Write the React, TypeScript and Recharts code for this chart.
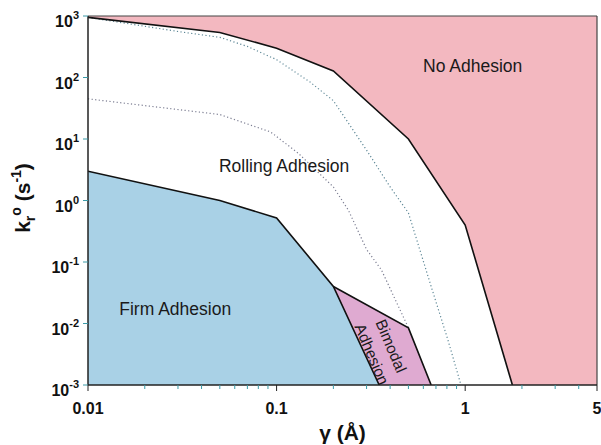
import React from 'react';
import {
  ComposedChart,
  Area,
  Line,
  XAxis,
  YAxis,
  ReferenceLine,
  ReferenceDot,
} from 'recharts';

const FONT = '"Liberation Sans", Arial, Helvetica, sans-serif';

// axis ticks
const xMajorTicks = [0.01, 0.1, 1, 5];
const xMinorTicks = [0.02, 0.03, 0.04, 0.05, 0.06, 0.07, 0.08, 0.09, 0.2, 0.3, 0.4, 0.5, 0.6, 0.7, 0.8, 0.9, 2, 3, 4];
const yTicks = [0.001, 0.01, 0.1, 1, 10, 100, 1000];

// whole plot (no adhesion background)
const fullX = [0.01, 5];
const fullY = [1000, 1000];

// rolling / no adhesion boundary
const noAdhesionX = [0.01, 0.05, 0.1, 0.2, 0.5, 1, 1.78];
const noAdhesionY = [950, 540, 300, 128, 10, 0.4, 0.001];

// firm adhesion boundary
const firmX = [0.01, 0.05, 0.1, 0.2, 0.35];
const firmY = [3, 1, 0.52, 0.04, 0.001];

// bimodal adhesion upper edge
const bimodalX = [0.2, 0.5, 0.66];
const bimodalY = [0.04, 0.0085, 0.001];

// dotted curves
const dotUpperX = [0.01, 0.03, 0.05, 0.07, 0.1, 0.15, 0.2, 0.3, 0.4, 0.5, 0.66, 0.81, 0.95];
const dotUpperY = [950, 560, 450, 320, 195, 85, 42, 6.6, 1.66, 0.63, 0.04, 0.0054, 0.001];
const dotLowerX = [0.01, 0.05, 0.093, 0.13, 0.2, 0.24, 0.3, 0.36, 0.5];
const dotLowerY = [45, 25, 13, 5.9, 1.66, 0.7, 0.16, 0.074, 0.0085];

const pts = (xs: number[], ys: number[]) => xs.map((x, i) => ({ x, y: ys[i] }));

const PINK = '#f3b8c0';
const BLUE = '#a9d1e6';
const PURPLE = '#dfaad1';

const TICK_SIZE = 6;
const TICK_MARGIN = 12;

// draws its own tick mark so minor and major ticks can share the axis
const XTick = (props: any) => {
  const { x, y, payload } = props;
  const axisY = y - TICK_SIZE - TICK_MARGIN;
  const major = xMajorTicks.includes(payload.value);
  return (
    <g>
      <line x1={x} x2={x} y1={axisY} y2={axisY + (major ? 6 : 4)} stroke={major ? '#222' : '#3a9aa8'} strokeWidth={1} />
      {major && (
        <text x={x} y={y} dy="0.71em" textAnchor="middle" fontFamily={FONT} fontWeight="bold" fontSize={16} fill="#111">
          {payload.value}
        </text>
      )}
    </g>
  );
};

const YTick = (props: any) => {
  const { x, y, payload } = props;
  const exp = Math.round(Math.log10(payload.value));
  return (
    <text x={x} y={y + 11} textAnchor="end" fontFamily={FONT} fontWeight="bold" fill="#111">
      <tspan fontSize={16}>10</tspan>
      <tspan fontSize={11} dy={-8}>{exp}</tspan>
    </text>
  );
};

const YLabel = () => (
  <text transform="rotate(-90)" x={-198} y={30} textAnchor="middle" fontFamily={FONT} fontWeight="bold" fontSize={21} fill="#111">
    k<tspan fontSize={14} dy={5}>r</tspan>
    <tspan fontSize={14} dy={-14}>o</tspan>
    <tspan dy={9}> (s</tspan>
    <tspan fontSize={14} dy={-9}>-1</tspan>
    <tspan dy={9}>)</tspan>
  </text>
);

const regionText = (text: string) => (p: any) => (
  <text x={p.cx} y={p.cy} textAnchor="middle" fontFamily={FONT} fontSize={17.5} fill="#1a1a1a">
    {text}
  </text>
);

const bimodalText = (p: any) => (
  <g transform={`rotate(67, ${p.cx}, ${p.cy})`} fontFamily={FONT} fontSize={15.5} fill="#1a1a1a">
    <text x={p.cx} y={p.cy - 5} textAnchor="middle">Bimodal</text>
    <text x={p.cx} y={p.cy + 16} textAnchor="middle">Adhesion</text>
  </g>
);

export default function App() {
  return (
    <div style={{ position: 'absolute', left: 0, top: 0, background: '#fff' }}>
      <ComposedChart width={601} height={445} margin={{ top: 16, right: 4, left: 0, bottom: 0 }}>
        <XAxis
          type="number"
          dataKey="x"
          scale="log"
          domain={[0.01, 5]}
          allowDataOverflow
          ticks={[...xMajorTicks, ...xMinorTicks]}
          interval={0}
          tick={<XTick />}
          tickSize={TICK_SIZE}
          tickMargin={TICK_MARGIN}
          tickLine={false}
          axisLine={{ stroke: '#222', strokeWidth: 1.5 }}
          height={60}
          label={{ value: 'γ (Å)', position: 'insideBottom', offset: 5, fontFamily: FONT, fontWeight: 'bold', fontSize: 21, fill: '#111' }}
        />
        <YAxis
          type="number"
          dataKey="y"
          scale="log"
          domain={[0.001, 1000]}
          allowDataOverflow
          ticks={yTicks}
          interval={0}
          tick={<YTick />}
          tickSize={5}
          tickMargin={4}
          tickLine={{ stroke: '#3a9aa8' }}
          axisLine={{ stroke: '#222', strokeWidth: 1.5 }}
          width={88}
          label={<YLabel />}
        />

        <Area data={pts(fullX, fullY)} dataKey="y" type="linear" baseValue="dataMin" fill={PINK} fillOpacity={1} stroke="none" isAnimationActive={false} />
        <Area data={pts(noAdhesionX, noAdhesionY)} dataKey="y" type="linear" baseValue="dataMin" fill="#ffffff" fillOpacity={1} stroke="none" isAnimationActive={false} />
        <Area data={pts(bimodalX, bimodalY)} dataKey="y" type="linear" baseValue="dataMin" fill={PURPLE} fillOpacity={1} stroke="none" isAnimationActive={false} />
        <Area data={pts(firmX, firmY)} dataKey="y" type="linear" baseValue="dataMin" fill={BLUE} fillOpacity={1} stroke="none" isAnimationActive={false} />

        <Line data={pts(dotUpperX, dotUpperY)} dataKey="y" type="linear" stroke="#5d8796" strokeWidth={1.2} strokeDasharray="1.2 2.4" dot={false} isAnimationActive={false} />
        <Line data={pts(dotLowerX, dotLowerY)} dataKey="y" type="linear" stroke="#7d7f93" strokeWidth={1.2} strokeDasharray="1.2 2.4" dot={false} isAnimationActive={false} />
        <Line data={pts(noAdhesionX, noAdhesionY)} dataKey="y" type="linear" stroke="#111" strokeWidth={1.6} dot={false} isAnimationActive={false} />
        <Line data={pts(firmX, firmY)} dataKey="y" type="linear" stroke="#111" strokeWidth={1.6} dot={false} isAnimationActive={false} />
        <Line data={pts(bimodalX, bimodalY)} dataKey="y" type="linear" stroke="#111" strokeWidth={1.6} dot={false} isAnimationActive={false} />

        <ReferenceLine y={1000} stroke="#444" strokeWidth={1.2} />
        <ReferenceLine x={5} stroke="#444" strokeWidth={1.2} />

        <ReferenceDot x={1.096} y={123} r={0} shape={regionText('No Adhesion')} />
        <ReferenceDot x={0.1096} y={2.9} r={0} shape={regionText('Rolling Adhesion')} />
        <ReferenceDot x={0.029} y={0.0137} r={0} shape={regionText('Firm Adhesion')} />
        <ReferenceDot x={0.36} y={0.0037} r={0} shape={bimodalText} />
      </ComposedChart>
    </div>
  );
}
